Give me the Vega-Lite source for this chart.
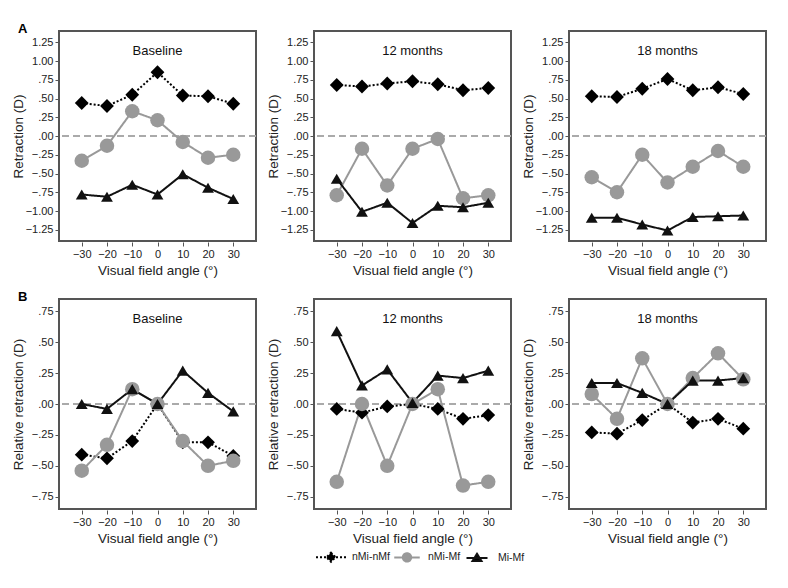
{
  "$schema": "https://vega.github.io/schema/vega-lite/v6.json",
  "background": "white",
  "padding": {"left": 10, "top": 23, "right": 10, "bottom": 4},
  "spacing": 14,
  "config": {
    "font": "Liberation Sans",
    "view": {"stroke": "#555", "strokeWidth": 2},
    "axis": {"grid": false, "domain": false, "tickColor": "#555", "tickSize": 4, "labelFontSize": 11, "labelColor": "#222", "titleFontSize": 13.5, "titleFontWeight": "normal", "titleColor": "#222"},
    "axisY": {"minExtent": 30, "maxExtent": 30},
    "legend": {"labelFontSize": 10.5, "labelColor": "#222"}
  },
  "data": {"values": [
    {"r":"A","p":"Baseline","a":-30,"s":"nMi-nMf","v":0.44},{"r":"A","p":"Baseline","a":-20,"s":"nMi-nMf","v":0.40},{"r":"A","p":"Baseline","a":-10,"s":"nMi-nMf","v":0.55},{"r":"A","p":"Baseline","a":0,"s":"nMi-nMf","v":0.85},{"r":"A","p":"Baseline","a":10,"s":"nMi-nMf","v":0.54},{"r":"A","p":"Baseline","a":20,"s":"nMi-nMf","v":0.53},{"r":"A","p":"Baseline","a":30,"s":"nMi-nMf","v":0.43},
    {"r":"A","p":"12 months","a":-30,"s":"nMi-nMf","v":0.68},{"r":"A","p":"12 months","a":-20,"s":"nMi-nMf","v":0.66},{"r":"A","p":"12 months","a":-10,"s":"nMi-nMf","v":0.70},{"r":"A","p":"12 months","a":0,"s":"nMi-nMf","v":0.73},{"r":"A","p":"12 months","a":10,"s":"nMi-nMf","v":0.69},{"r":"A","p":"12 months","a":20,"s":"nMi-nMf","v":0.61},{"r":"A","p":"12 months","a":30,"s":"nMi-nMf","v":0.64},
    {"r":"A","p":"18 months","a":-30,"s":"nMi-nMf","v":0.53},{"r":"A","p":"18 months","a":-20,"s":"nMi-nMf","v":0.52},{"r":"A","p":"18 months","a":-10,"s":"nMi-nMf","v":0.63},{"r":"A","p":"18 months","a":0,"s":"nMi-nMf","v":0.76},{"r":"A","p":"18 months","a":10,"s":"nMi-nMf","v":0.61},{"r":"A","p":"18 months","a":20,"s":"nMi-nMf","v":0.65},{"r":"A","p":"18 months","a":30,"s":"nMi-nMf","v":0.56},
    {"r":"B","p":"Baseline","a":-30,"s":"nMi-nMf","v":-0.41},{"r":"B","p":"Baseline","a":-20,"s":"nMi-nMf","v":-0.44},{"r":"B","p":"Baseline","a":-10,"s":"nMi-nMf","v":-0.30},{"r":"B","p":"Baseline","a":0,"s":"nMi-nMf","v":0},{"r":"B","p":"Baseline","a":10,"s":"nMi-nMf","v":-0.31},{"r":"B","p":"Baseline","a":20,"s":"nMi-nMf","v":-0.31},{"r":"B","p":"Baseline","a":30,"s":"nMi-nMf","v":-0.42},
    {"r":"B","p":"12 months","a":-30,"s":"nMi-nMf","v":-0.04},{"r":"B","p":"12 months","a":-20,"s":"nMi-nMf","v":-0.07},{"r":"B","p":"12 months","a":-10,"s":"nMi-nMf","v":-0.02},{"r":"B","p":"12 months","a":0,"s":"nMi-nMf","v":0},{"r":"B","p":"12 months","a":10,"s":"nMi-nMf","v":-0.04},{"r":"B","p":"12 months","a":20,"s":"nMi-nMf","v":-0.12},{"r":"B","p":"12 months","a":30,"s":"nMi-nMf","v":-0.09},
    {"r":"B","p":"18 months","a":-30,"s":"nMi-nMf","v":-0.23},{"r":"B","p":"18 months","a":-20,"s":"nMi-nMf","v":-0.24},{"r":"B","p":"18 months","a":-10,"s":"nMi-nMf","v":-0.13},{"r":"B","p":"18 months","a":0,"s":"nMi-nMf","v":0},{"r":"B","p":"18 months","a":10,"s":"nMi-nMf","v":-0.15},{"r":"B","p":"18 months","a":20,"s":"nMi-nMf","v":-0.12},{"r":"B","p":"18 months","a":30,"s":"nMi-nMf","v":-0.20},
    {"r":"A","p":"Baseline","a":-30,"s":"nMi-Mf","v":-0.33},{"r":"A","p":"Baseline","a":-20,"s":"nMi-Mf","v":-0.13},{"r":"A","p":"Baseline","a":-10,"s":"nMi-Mf","v":0.33},{"r":"A","p":"Baseline","a":0,"s":"nMi-Mf","v":0.21},{"r":"A","p":"Baseline","a":10,"s":"nMi-Mf","v":-0.08},{"r":"A","p":"Baseline","a":20,"s":"nMi-Mf","v":-0.29},{"r":"A","p":"Baseline","a":30,"s":"nMi-Mf","v":-0.25},
    {"r":"A","p":"12 months","a":-30,"s":"nMi-Mf","v":-0.79},{"r":"A","p":"12 months","a":-20,"s":"nMi-Mf","v":-0.17},{"r":"A","p":"12 months","a":-10,"s":"nMi-Mf","v":-0.66},{"r":"A","p":"12 months","a":0,"s":"nMi-Mf","v":-0.17},{"r":"A","p":"12 months","a":10,"s":"nMi-Mf","v":-0.04},{"r":"A","p":"12 months","a":20,"s":"nMi-Mf","v":-0.83},{"r":"A","p":"12 months","a":30,"s":"nMi-Mf","v":-0.79},
    {"r":"A","p":"18 months","a":-30,"s":"nMi-Mf","v":-0.55},{"r":"A","p":"18 months","a":-20,"s":"nMi-Mf","v":-0.75},{"r":"A","p":"18 months","a":-10,"s":"nMi-Mf","v":-0.25},{"r":"A","p":"18 months","a":0,"s":"nMi-Mf","v":-0.62},{"r":"A","p":"18 months","a":10,"s":"nMi-Mf","v":-0.41},{"r":"A","p":"18 months","a":20,"s":"nMi-Mf","v":-0.20},{"r":"A","p":"18 months","a":30,"s":"nMi-Mf","v":-0.41},
    {"r":"B","p":"Baseline","a":-30,"s":"nMi-Mf","v":-0.54},{"r":"B","p":"Baseline","a":-20,"s":"nMi-Mf","v":-0.33},{"r":"B","p":"Baseline","a":-10,"s":"nMi-Mf","v":0.12},{"r":"B","p":"Baseline","a":0,"s":"nMi-Mf","v":0},{"r":"B","p":"Baseline","a":10,"s":"nMi-Mf","v":-0.30},{"r":"B","p":"Baseline","a":20,"s":"nMi-Mf","v":-0.50},{"r":"B","p":"Baseline","a":30,"s":"nMi-Mf","v":-0.46},
    {"r":"B","p":"12 months","a":-30,"s":"nMi-Mf","v":-0.63},{"r":"B","p":"12 months","a":-20,"s":"nMi-Mf","v":0.00},{"r":"B","p":"12 months","a":-10,"s":"nMi-Mf","v":-0.50},{"r":"B","p":"12 months","a":0,"s":"nMi-Mf","v":0},{"r":"B","p":"12 months","a":10,"s":"nMi-Mf","v":0.12},{"r":"B","p":"12 months","a":20,"s":"nMi-Mf","v":-0.66},{"r":"B","p":"12 months","a":30,"s":"nMi-Mf","v":-0.63},
    {"r":"B","p":"18 months","a":-30,"s":"nMi-Mf","v":0.08},{"r":"B","p":"18 months","a":-20,"s":"nMi-Mf","v":-0.12},{"r":"B","p":"18 months","a":-10,"s":"nMi-Mf","v":0.37},{"r":"B","p":"18 months","a":0,"s":"nMi-Mf","v":0},{"r":"B","p":"18 months","a":10,"s":"nMi-Mf","v":0.21},{"r":"B","p":"18 months","a":20,"s":"nMi-Mf","v":0.41},{"r":"B","p":"18 months","a":30,"s":"nMi-Mf","v":0.20},
    {"r":"A","p":"Baseline","a":-30,"s":"Mi-Mf","v":-0.78},{"r":"A","p":"Baseline","a":-20,"s":"Mi-Mf","v":-0.81},{"r":"A","p":"Baseline","a":-10,"s":"Mi-Mf","v":-0.65},{"r":"A","p":"Baseline","a":0,"s":"Mi-Mf","v":-0.78},{"r":"A","p":"Baseline","a":10,"s":"Mi-Mf","v":-0.51},{"r":"A","p":"Baseline","a":20,"s":"Mi-Mf","v":-0.69},{"r":"A","p":"Baseline","a":30,"s":"Mi-Mf","v":-0.84},
    {"r":"A","p":"12 months","a":-30,"s":"Mi-Mf","v":-0.57},{"r":"A","p":"12 months","a":-20,"s":"Mi-Mf","v":-1.01},{"r":"A","p":"12 months","a":-10,"s":"Mi-Mf","v":-0.89},{"r":"A","p":"12 months","a":0,"s":"Mi-Mf","v":-1.16},{"r":"A","p":"12 months","a":10,"s":"Mi-Mf","v":-0.93},{"r":"A","p":"12 months","a":20,"s":"Mi-Mf","v":-0.95},{"r":"A","p":"12 months","a":30,"s":"Mi-Mf","v":-0.89},
    {"r":"A","p":"18 months","a":-30,"s":"Mi-Mf","v":-1.09},{"r":"A","p":"18 months","a":-20,"s":"Mi-Mf","v":-1.09},{"r":"A","p":"18 months","a":-10,"s":"Mi-Mf","v":-1.18},{"r":"A","p":"18 months","a":0,"s":"Mi-Mf","v":-1.26},{"r":"A","p":"18 months","a":10,"s":"Mi-Mf","v":-1.08},{"r":"A","p":"18 months","a":20,"s":"Mi-Mf","v":-1.07},{"r":"A","p":"18 months","a":30,"s":"Mi-Mf","v":-1.06},
    {"r":"B","p":"Baseline","a":-30,"s":"Mi-Mf","v":0.00},{"r":"B","p":"Baseline","a":-20,"s":"Mi-Mf","v":-0.04},{"r":"B","p":"Baseline","a":-10,"s":"Mi-Mf","v":0.12},{"r":"B","p":"Baseline","a":0,"s":"Mi-Mf","v":0},{"r":"B","p":"Baseline","a":10,"s":"Mi-Mf","v":0.27},{"r":"B","p":"Baseline","a":20,"s":"Mi-Mf","v":0.09},{"r":"B","p":"Baseline","a":30,"s":"Mi-Mf","v":-0.06},
    {"r":"B","p":"12 months","a":-30,"s":"Mi-Mf","v":0.59},{"r":"B","p":"12 months","a":-20,"s":"Mi-Mf","v":0.15},{"r":"B","p":"12 months","a":-10,"s":"Mi-Mf","v":0.28},{"r":"B","p":"12 months","a":0,"s":"Mi-Mf","v":0.01},{"r":"B","p":"12 months","a":10,"s":"Mi-Mf","v":0.23},{"r":"B","p":"12 months","a":20,"s":"Mi-Mf","v":0.21},{"r":"B","p":"12 months","a":30,"s":"Mi-Mf","v":0.27},
    {"r":"B","p":"18 months","a":-30,"s":"Mi-Mf","v":0.17},{"r":"B","p":"18 months","a":-20,"s":"Mi-Mf","v":0.17},{"r":"B","p":"18 months","a":-10,"s":"Mi-Mf","v":0.09},{"r":"B","p":"18 months","a":0,"s":"Mi-Mf","v":0},{"r":"B","p":"18 months","a":10,"s":"Mi-Mf","v":0.19},{"r":"B","p":"18 months","a":20,"s":"Mi-Mf","v":0.19},{"r":"B","p":"18 months","a":30,"s":"Mi-Mf","v":0.21}
  ]},
  "vconcat": [
    {
      "title": {"text": "A", "anchor": "start", "frame": "bounds", "fontSize": 13, "fontWeight": "bold", "offset": -6, "dx": 8},
      "transform": [{"filter": "datum.r == 'A'"}],
      "facet": {"column": {"field": "p", "type": "nominal", "sort": ["Baseline", "12 months", "18 months"], "header": {"title": null, "labelFontSize": 13, "labelColor": "#111", "labelPadding": -28}}},
      "spacing": 7,
      "resolve": {"axis": {"y": "independent"}},
      "spec": {
        "width": 197, "height": 210,
        "encoding": {
          "x": {"field": "a", "type": "quantitative", "scale": {"domain": [-39, 39], "nice": false}, "axis": {"values": [-30, -20, -10, 0, 10, 20, 30], "title": "Visual field angle (°)"}},
          "y": {"field": "v", "type": "quantitative", "scale": {"domain": [-1.4, 1.4], "nice": false}, "axis": {"values": [-1.25, -1, -0.75, -0.5, -0.25, 0, 0.25, 0.5, 0.75, 1, 1.25], "title": "Retraction (D)", "labelExpr": "abs(datum.value) < 1 ? (datum.value < 0 ? '−' : '') + replace(format(abs(datum.value), '.2f'), '0.', '.') : format(datum.value, '.2f')"}}
        },
        "layer": [
          {"mark": {"type": "rule", "color": "#aaa", "strokeDash": [7, 4], "strokeWidth": 1.5}, "encoding": {"y": {"datum": 0}, "x": null}},
          {"mark": {"type": "line", "strokeWidth": 2}, "encoding": {
            "color": {"field": "s", "type": "nominal", "scale": {"domain": ["nMi-nMf", "nMi-Mf", "Mi-Mf"], "range": ["#000", "#999", "#111"]},
              "legend": {"orient": "none", "legendX": 256, "legendY": 510, "direction": "horizontal", "title": null, "padding": 0, "symbolSize": 900, "labelOffset": 5, "columnPadding": 0,
                "encode": {"symbols": {"update": {
                  "shape": {"signal": "datum.value == 'nMi-nMf' ? 'M-1,0L1,0M0,-0.3L0.3,0L0,0.3L-0.3,0Z' : datum.value == 'nMi-Mf' ? 'M-0.85,0L0.85,0M0.28,0A0.28,0.28,0,1,1,-0.28,0A0.28,0.28,0,1,1,0.28,0Z' : 'M-0.7,0L0.7,0M0,-0.28L0.3,0.2L-0.3,0.2Z'"},
                  "fill": {"signal": "datum.value == 'nMi-Mf' ? '#999' : '#000'"},
                  "strokeDash": {"signal": "datum.value == 'nMi-nMf' ? [2, 2] : [1, 0]"},
                  "strokeWidth": {"value": 2},
                  "opacity": {"value": 1}
                }}}}},
            "strokeDash": {"field": "s", "type": "nominal", "scale": {"domain": ["nMi-nMf", "nMi-Mf", "Mi-Mf"], "range": [[2, 2], [1, 0], [1, 0]]}, "legend": null}
          }},
          {"transform": [{"filter": "datum.s == 'nMi-nMf'"}], "mark": {"type": "point", "filled": true, "opacity": 1, "shape": "diamond", "size": 190, "color": "#000"}, "encoding": {}},
          {"transform": [{"filter": "datum.s == 'nMi-Mf'"}], "mark": {"type": "point", "filled": true, "opacity": 1, "shape": "circle", "size": 210, "color": "#999"}, "encoding": {}},
          {"transform": [{"filter": "datum.s == 'Mi-Mf'"}], "mark": {"type": "point", "filled": true, "opacity": 1, "shape": "triangle-up", "size": 140, "color": "#111"}, "encoding": {}}
        ]
      }
    },
    {
      "title": {"text": "B", "anchor": "start", "frame": "bounds", "fontSize": 13, "fontWeight": "bold", "offset": -6, "dx": 8},
      "transform": [{"filter": "datum.r == 'B'"}],
      "facet": {"column": {"field": "p", "type": "nominal", "sort": ["Baseline", "12 months", "18 months"], "header": {"title": null, "labelFontSize": 13, "labelColor": "#111", "labelPadding": -28}}},
      "spacing": 7,
      "resolve": {"axis": {"y": "independent"}},
      "spec": {
        "width": 197, "height": 210,
        "encoding": {
          "x": {"field": "a", "type": "quantitative", "scale": {"domain": [-39, 39], "nice": false}, "axis": {"values": [-30, -20, -10, 0, 10, 20, 30], "title": "Visual field angle (°)"}},
          "y": {"field": "v", "type": "quantitative", "scale": {"domain": [-0.85, 0.85], "nice": false}, "axis": {"values": [-0.75, -0.5, -0.25, 0, 0.25, 0.5, 0.75], "title": "Relative retraction (D)", "labelExpr": "abs(datum.value) < 1 ? (datum.value < 0 ? '−' : '') + replace(format(abs(datum.value), '.2f'), '0.', '.') : format(datum.value, '.2f')"}}
        },
        "layer": [
          {"mark": {"type": "rule", "color": "#aaa", "strokeDash": [7, 4], "strokeWidth": 1.5}, "encoding": {"y": {"datum": 0}, "x": null}},
          {"mark": {"type": "line", "strokeWidth": 2}, "encoding": {
            "color": {"field": "s", "type": "nominal", "scale": {"domain": ["nMi-nMf", "nMi-Mf", "Mi-Mf"], "range": ["#000", "#999", "#111"]},
              "legend": {"orient": "none", "legendX": 256, "legendY": 510, "direction": "horizontal", "title": null, "padding": 0, "symbolSize": 900, "labelOffset": 5, "columnPadding": 0,
                "encode": {"symbols": {"update": {
                  "shape": {"signal": "datum.value == 'nMi-nMf' ? 'M-1,0L1,0M0,-0.3L0.3,0L0,0.3L-0.3,0Z' : datum.value == 'nMi-Mf' ? 'M-0.85,0L0.85,0M0.28,0A0.28,0.28,0,1,1,-0.28,0A0.28,0.28,0,1,1,0.28,0Z' : 'M-0.7,0L0.7,0M0,-0.28L0.3,0.2L-0.3,0.2Z'"},
                  "fill": {"signal": "datum.value == 'nMi-Mf' ? '#999' : '#000'"},
                  "strokeDash": {"signal": "datum.value == 'nMi-nMf' ? [2, 2] : [1, 0]"},
                  "strokeWidth": {"value": 2},
                  "opacity": {"value": 1}
                }}}}},
            "strokeDash": {"field": "s", "type": "nominal", "scale": {"domain": ["nMi-nMf", "nMi-Mf", "Mi-Mf"], "range": [[2, 2], [1, 0], [1, 0]]}, "legend": null}
          }},
          {"transform": [{"filter": "datum.s == 'nMi-nMf'"}], "mark": {"type": "point", "filled": true, "opacity": 1, "shape": "diamond", "size": 190, "color": "#000"}, "encoding": {}},
          {"transform": [{"filter": "datum.s == 'nMi-Mf'"}], "mark": {"type": "point", "filled": true, "opacity": 1, "shape": "circle", "size": 210, "color": "#999"}, "encoding": {}},
          {"transform": [{"filter": "datum.s == 'Mi-Mf'"}], "mark": {"type": "point", "filled": true, "opacity": 1, "shape": "triangle-up", "size": 140, "color": "#111"}, "encoding": {}}
        ]
      }
    }
  ]
}
